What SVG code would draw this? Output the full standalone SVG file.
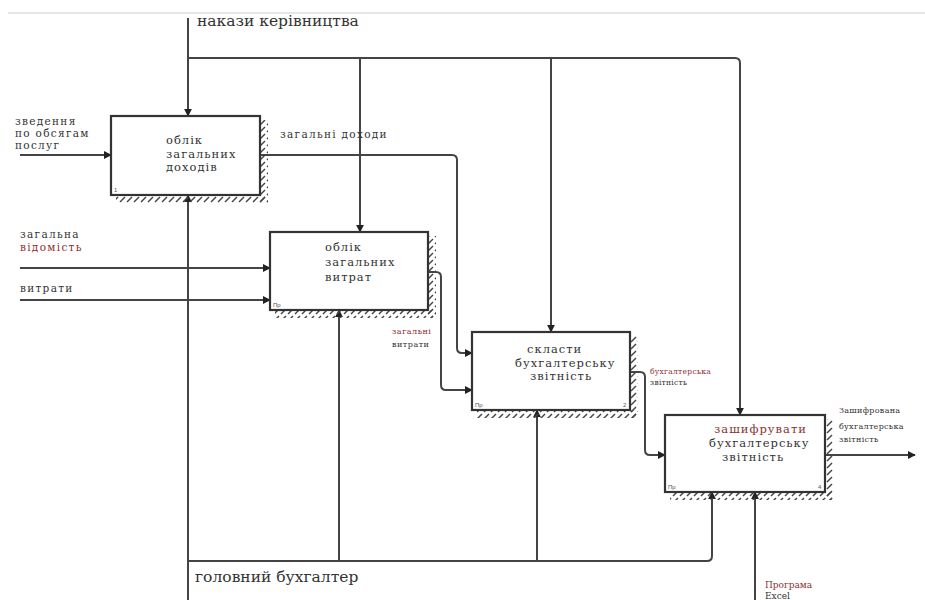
<svg xmlns="http://www.w3.org/2000/svg" width="925" height="600" viewBox="0 0 925 600" font-family="'DejaVu Serif', 'Liberation Serif', serif">
<defs>
<style>
.ln{fill:none;stroke:#444;stroke-width:2}
.bx{fill:#fff;stroke:#333;stroke-width:2.2}
.r{fill:#8a3030}
.bt{font-size:11.5px;letter-spacing:1px}
.lb{font-size:10.5px;letter-spacing:1.3px}
.tiny{font-family:'Liberation Sans',sans-serif;font-size:6px;fill:#555;letter-spacing:0}
</style>
<pattern id="h" width="7" height="7" patternUnits="userSpaceOnUse">
<path d="M1,6 L6,1" stroke="#444" stroke-width="1.4"/>
</pattern>
<marker id="a" viewBox="0 0 10 10" refX="9" refY="5" markerWidth="4" markerHeight="4" orient="auto">
<path d="M0,0 L10,5 L0,10 z" fill="#222"/>
</marker>
</defs>
<rect width="925" height="600" fill="#fff"/>
<line x1="8" y1="13" x2="925" y2="13" stroke="#ddd" stroke-width="1.5"/>

<g id="connectors">
<path class="ln" d="M188,18 V116" marker-end="url(#a)"/>
<path class="ln" d="M188,58 H735 Q740,58 740,63 V415" marker-end="url(#a)"/>
<path class="ln" d="M360,58 V232" marker-end="url(#a)"/>
<path class="ln" d="M551,58 V332" marker-end="url(#a)"/>
<path class="ln" d="M20,155 H111" marker-end="url(#a)"/>
<path class="ln" d="M20,268 H270" marker-end="url(#a)"/>
<path class="ln" d="M20,300 H270" marker-end="url(#a)"/>
<path class="ln" d="M260,155 H452 Q457,155 457,160 V348 Q457,353 462,353 H472" marker-end="url(#a)"/>
<path class="ln" d="M428,272 H436 Q441,272 441,277 V385 Q441,390 446,390 H472" marker-end="url(#a)"/>
<path class="ln" d="M630,372 H640 Q645,372 645,377 V450 Q645,455 650,455 H665" marker-end="url(#a)"/>
<path class="ln" d="M825,455 H915" marker-end="url(#a)"/>
<path class="ln" d="M188,600 V195" marker-end="url(#a)"/>
<path class="ln" d="M188,561 H707 Q712,561 712,556 V492" marker-end="url(#a)"/>
<path class="ln" d="M339,561 V310" marker-end="url(#a)"/>
<path class="ln" d="M537,561 V410" marker-end="url(#a)"/>
<path class="ln" d="M755,600 V492" marker-end="url(#a)"/>
</g>

<g id="box1" fill="#333">
<rect x="260" y="120" width="8" height="83" fill="url(#h)"/>
<rect x="116" y="195" width="152" height="8" fill="url(#h)"/>
<rect class="bx" x="111" y="116" width="149" height="79"/>
<text class="tiny" x="114" y="192">1</text>
<text class="bt" x="166" y="144">облік</text>
<text class="bt" x="166" y="158">загальних</text>
<text class="bt" x="166" y="171">доходів</text>
</g>

<g id="box2" fill="#333">
<rect x="428" y="236" width="8" height="82" fill="url(#h)"/>
<rect x="275" y="310" width="161" height="8" fill="url(#h)"/>
<rect class="bx" x="270" y="232" width="158" height="78"/>
<text class="tiny" x="273" y="307">Пр</text>
<text class="bt" x="325" y="251">облік</text>
<text class="bt" x="325" y="266">загальних</text>
<text class="bt" x="325" y="281">витрат</text>
</g>

<g id="box3" fill="#333">
<rect x="630" y="336" width="8" height="82" fill="url(#h)"/>
<rect x="477" y="410" width="161" height="8" fill="url(#h)"/>
<rect class="bx" x="472" y="332" width="158" height="78"/>
<text class="tiny" x="475" y="407">Пр</text>
<text class="tiny" x="623" y="407">2</text>
<text class="bt" x="527" y="353">скласти</text>
<text class="bt" x="515" y="367">бухгалтерську</text>
<text class="bt" x="530" y="380">звітність</text>
</g>

<g id="box4" fill="#333">
<rect x="825" y="419" width="8" height="81" fill="url(#h)"/>
<rect x="670" y="492" width="163" height="8" fill="url(#h)"/>
<rect class="bx" x="665" y="415" width="160" height="77"/>
<text class="tiny" x="668" y="489">Пр</text>
<text class="tiny" x="818" y="489">4</text>
<text class="bt r" x="714" y="433">зашифрувати</text>
<text class="bt" x="709" y="447">бухгалтерську</text>
<text class="bt" x="722" y="461">звітність</text>
</g>

<g id="labels" fill="#333">
<text font-size="15.5" x="197" y="26">накази керівництва</text>
<text class="lb" x="15" y="125">зведення</text>
<text class="lb" x="15" y="137">по обсягам</text>
<text class="lb" x="15" y="149">послуг</text>
<text class="lb" x="280" y="138">загальні доходи</text>
<text class="lb" x="20" y="238">загальна</text>
<text class="lb r" x="20" y="251">відомість</text>
<text class="lb" x="20" y="292">витрати</text>
<text font-size="8" letter-spacing="0.5" x="392" y="334" class="r">загальні</text>
<text font-size="8" letter-spacing="0.5" x="392" y="347">витрати</text>
<text font-size="7.5" letter-spacing="0.3" x="650" y="374" class="r">бухгалтерська</text>
<text font-size="7.5" letter-spacing="0.3" x="650" y="385">звітність</text>
<text font-size="8" letter-spacing="0.3" x="839" y="413">Зашифрована</text>
<text font-size="8" letter-spacing="0.3" x="839" y="429">бухгалтерська</text>
<text font-size="8" letter-spacing="0.3" x="839" y="442">звітність</text>
<text font-size="15.5" x="195" y="582">головний бухгалтер</text>
<text font-size="9" x="765" y="588" class="r">Програма</text>
<text font-size="9" x="765" y="599">Excel</text>
</g>
</svg>
